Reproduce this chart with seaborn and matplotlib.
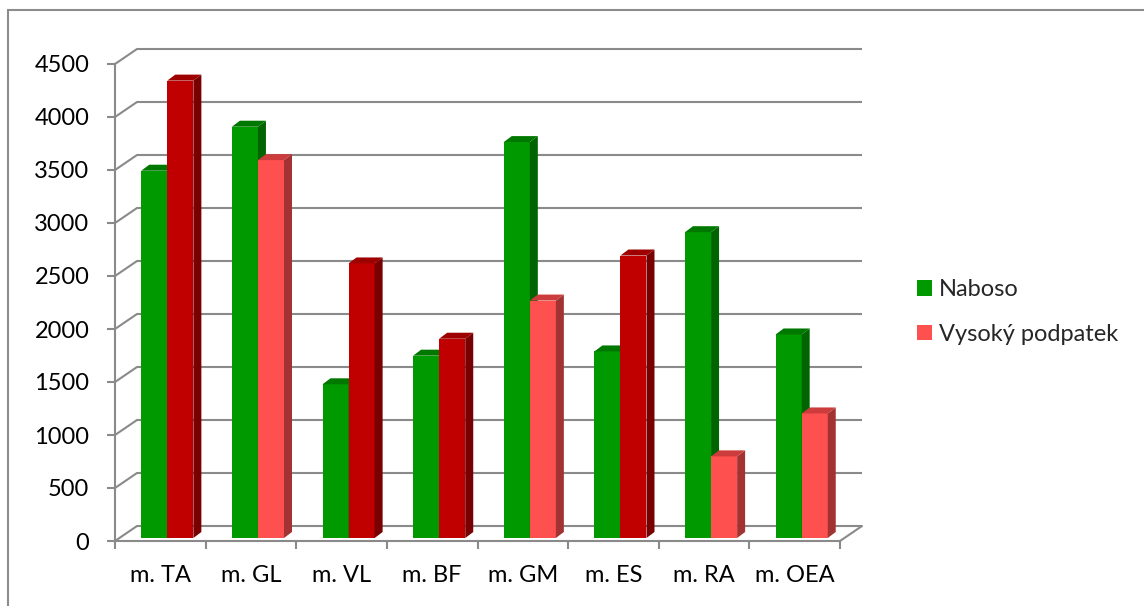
import matplotlib
matplotlib.use("Agg")
import matplotlib.pyplot as plt
import pandas as pd
import seaborn as sns
from matplotlib.patches import Polygon, Rectangle
from matplotlib.transforms import ScaledTranslation

# Muscle activity, barefoot vs. high heel
categories = ["m. TA", "m. GL", "m. VL", "m. BF", "m. GM", "m. ES", "m. RA", "m. OEA"]
series = ["Naboso", "Vysoký podpatek"]
naboso = [3465, 3880, 1450, 1720, 3735, 1760, 2885, 1920]
podpatek = [4315, 3565, 2590, 1880, 2240, 2665, 770, 1175]
y_ticks = [0, 500, 1000, 1500, 2000, 2500, 3000, 3500, 4000, 4500]

df = pd.DataFrame({
    "muscle": categories * 2,
    "series": [series[0]] * len(categories) + [series[1]] * len(categories),
    "value": naboso + podpatek,
})

sns.set_style("white")
plt.rcParams["font.family"] = ["Lato", "DejaVu Sans"]
FS = 17

W, H, DPI = 1144, 606, 100
fig = plt.figure(figsize=(W / DPI, H / DPI), dpi=DPI)

# front plane of the pseudo-3D box
ax_l, ax_r, ax_top, ax_bot = 115, 840, 64, 541
ax = fig.add_axes([ax_l / W, (H - ax_bot) / H, (ax_r - ax_l) / W, (ax_bot - ax_top) / H])

GREEN = "#009900"
RED_UP = "#C00000"
RED_DOWN = "#FF5050"
shades = {
    GREEN: ("#007800", "#006400"),
    RED_UP: ("#9E0000", "#780000"),
    RED_DOWN: ("#CC3C3C", "#A33333"),
}
GRID = "#8A8A8A"

sns.barplot(data=df, x="muscle", y="value", hue="series", order=categories,
            hue_order=series, palette=[GREEN, RED_DOWN], width=0.575,
            saturation=1, errorbar=None, legend=True, ax=ax)

ax.set_xlim(-0.5, len(categories) - 0.5)
ax.set_ylim(0, 4500)

px_x = (ax_r - ax_l) / len(categories)   # pixels per category unit
px_y = (ax_bot - ax_top) / 4500          # pixels per value unit

def px(dx, dy):
    return ScaledTranslation(dx / DPI, dy / DPI, fig.dpi_scale_trans)

# bars sit a little behind the front plane (right and up)
bar_tf = ax.transData + px(7, 3)
depth_x, depth_y = 8 / px_x, 6 / px_y

for k, cont in enumerate(ax.containers):
    for i, rect in enumerate(cont):
        if k == 0:
            face = GREEN
        else:
            face = RED_UP if podpatek[i] > naboso[i] else RED_DOWN
        top_c, side_c = shades[face]
        rect.set_facecolor(face)
        rect.set_edgecolor("none")
        rect.set_linewidth(0)
        rect.set_transform(bar_tf)
        rect.set_clip_on(False)
        rect.set_zorder(3 + k)
        x0, w, h = rect.get_x(), rect.get_width(), rect.get_height()
        x1 = x0 + w
        side = Polygon([(x1, 0), (x1 + depth_x, depth_y), (x1 + depth_x, h + depth_y), (x1, h)],
                       closed=True, facecolor=side_c, edgecolor="none",
                       transform=bar_tf, clip_on=False, zorder=3 + k)
        top = Polygon([(x0, h), (x0 + depth_x, h + depth_y), (x1 + depth_x, h + depth_y), (x1, h)],
                      closed=True, facecolor=top_c, edgecolor="none",
                      transform=bar_tf, clip_on=False, zorder=3 + k)
        ax.add_patch(side)
        ax.add_patch(top)

# back wall gridlines and left side wall
wall_dx, wall_dy = 22, 15
wall_tf = ax.transData + px(wall_dx, wall_dy)
x_lo, x_hi = -0.5, len(categories) - 0.5
for v in y_ticks:
    ax.plot([x_lo, x_hi], [v, v], transform=wall_tf, color=GRID, lw=1.5,
            clip_on=False, zorder=1, solid_capstyle="butt")
    ax.plot([x_lo, x_lo + wall_dx / px_x], [v, v + wall_dy / px_y],
            color=GRID, lw=1.5, clip_on=False, zorder=1)
# floor edge on the right
ax.plot([x_hi, x_hi + wall_dx / px_x], [0, wall_dy / px_y],
        color=GRID, lw=1.5, clip_on=False, zorder=1)

for s in ("top", "right"):
    ax.spines[s].set_visible(False)
for s in ("left", "bottom"):
    ax.spines[s].set_color(GRID)
    ax.spines[s].set_linewidth(1.5)

ax.set_yticks(y_ticks)
ax.set_xticks(range(len(categories)))
ax.set_xticklabels(categories)
ax.set_xticks([i - 0.5 for i in range(len(categories) + 1)], minor=True)
ax.tick_params(axis="y", which="major", direction="out", length=5.5, width=1.5,
               color=GRID, pad=13, labelsize=FS, labelcolor="black", left=True)
ax.tick_params(axis="x", which="major", length=0, pad=17, labelsize=FS,
               labelcolor="black")
ax.tick_params(axis="x", which="minor", direction="out", length=5.5, width=1.5,
               color=GRID, bottom=True)
ax.set_xlabel("")
ax.set_ylabel("")
ax.grid(False)

# legend at the right
leg = ax.legend(loc="center left", bbox_to_anchor=(917 / W, 1 - 312 / H),
                bbox_transform=fig.transFigure, frameon=False, fontsize=FS,
                handlelength=0.63, handleheight=0.63, handletextpad=0.3,
                labelspacing=1.0, borderpad=0, borderaxespad=0, title=None)
for hnd in leg.legend_handles:
    hnd.set_edgecolor("none")

# chart frame
fig.patches.append(Rectangle((8 / W, -0.1), 1.2, (H - 10) / H + 0.1,
                             transform=fig.transFigure, fill=False,
                             edgecolor="#8C8C8C", lw=1.5))

fig.savefig("out.png", dpi=DPI)
